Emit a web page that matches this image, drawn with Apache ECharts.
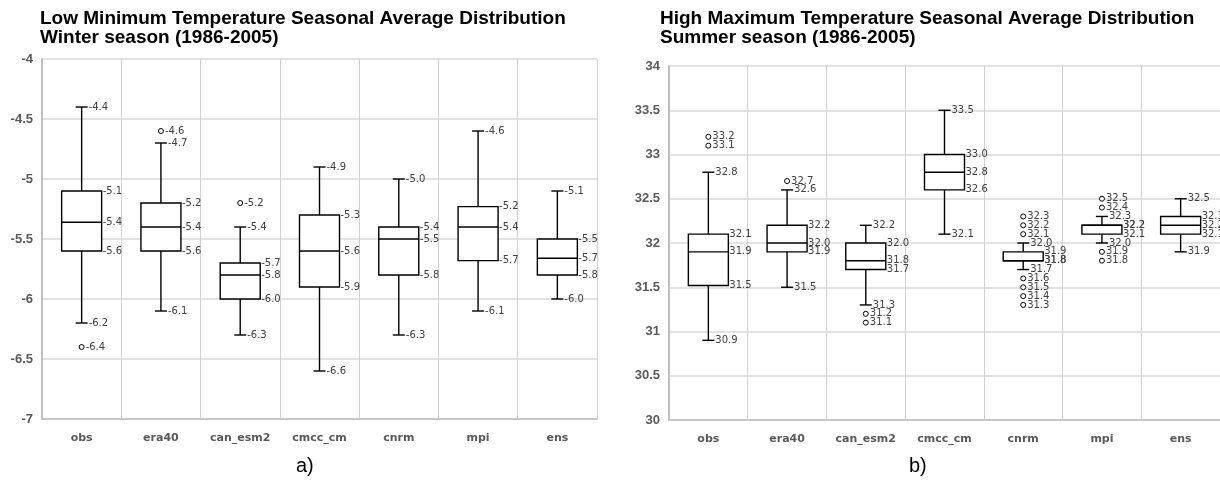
<!DOCTYPE html>
<html><head><meta charset="utf-8">
<script src="https://cdn.jsdelivr.net/npm/echarts@6/dist/echarts.min.js"></script>
<style>html,body{margin:0;padding:0;background:#fff}#c{width:1220px;height:486px}</style>
</head><body><div id="c"></div>
<script>
const categories = ['obs','era40','can_esm2','cmcc_cm','cnrm','mpi','ens'];
// [whisker low, Q1, median, Q3, whisker high]
const winterBoxes = [
  [-6.2, -5.6, -5.36, -5.1, -4.4],
  [-6.1, -5.6, -5.4, -5.2, -4.7],
  [-6.3, -6.0, -5.8, -5.7, -5.4],
  [-6.6, -5.9, -5.6, -5.3, -4.9],
  [-6.3, -5.8, -5.5, -5.4, -5.0],
  [-6.1, -5.68, -5.4, -5.23, -4.6],
  [-6.0, -5.8, -5.66, -5.5, -5.1]
];
const winterOutliers = [[0, -6.4], [1, -4.6], [2, -5.2]];
const summerBoxes = [
  [30.9, 31.52, 31.9, 32.1, 32.8],
  [31.5, 31.9, 32.0, 32.2, 32.6],
  [31.3, 31.7, 31.8, 32.0, 32.2],
  [32.1, 32.6, 32.8, 33.0, 33.5],
  [31.7, 31.8, 31.8, 31.9, 32.0],
  [32.0, 32.1, 32.2, 32.2, 32.3],
  [31.9, 32.1, 32.2, 32.3, 32.5]
];
const summerOutliers = [
  [0, 33.2], [0, 33.1], [1, 32.7], [2, 31.2], [2, 31.1],
  [4, 32.3], [4, 32.2], [4, 32.1], [4, 31.6], [4, 31.5], [4, 31.4], [4, 31.3],
  [5, 32.5], [5, 32.4], [5, 31.9], [5, 31.8]
];
const winterTicks = {min: -7, max: -4, interval: 0.5};
const summerTicks = {min: 30, max: 34, interval: 0.5};
const titles = [
  ['Low Minimum Temperature Seasonal Average Distribution', 'Winter season (1986-2005)'],
  ['High Maximum Temperature Seasonal Average Distribution', 'Summer season (1986-2005)']
];
const panelLabels = ['a)', 'b)'];

const LBL_FONT = '10px "DejaVu Sans"';
const LBL_COLOR = '#404040';

function boxSeries(boxes, idx) {
  return {
    type: 'custom', xAxisIndex: idx, yAxisIndex: idx, z: 3,
    data: boxes.map((d, i) => [i].concat(d)),
    encode: {x: 0, y: [1, 2, 3, 4, 5]},
    renderItem(params, api) {
      const i = api.value(0);
      const v = [1, 2, 3, 4, 5].map(k => api.value(k));
      const cx = api.coord([i, v[2]])[0];
      const y = v.map(val => api.coord([i, val])[1]);
      const bw = 40, cw = 12;
      const ls = {stroke: '#000', lineWidth: 1.4};
      const ch = [];
      ch.push({type: 'line', shape: {x1: cx, y1: y[4], x2: cx, y2: y[3]}, style: ls});
      ch.push({type: 'line', shape: {x1: cx, y1: y[0], x2: cx, y2: y[1]}, style: ls});
      ch.push({type: 'line', shape: {x1: cx - cw / 2, y1: y[4], x2: cx + cw / 2, y2: y[4]}, style: ls});
      ch.push({type: 'line', shape: {x1: cx - cw / 2, y1: y[0], x2: cx + cw / 2, y2: y[0]}, style: ls});
      ch.push({type: 'rect', shape: {x: cx - bw / 2, y: y[3], width: bw, height: y[1] - y[3]}, style: {fill: '#fff', stroke: '#000', lineWidth: 1.4}});
      ch.push({type: 'line', shape: {x1: cx - bw / 2, y1: y[2], x2: cx + bw / 2, y2: y[2]}, style: ls});
      const txt = (x, yy, val) => ({type: 'text', x: x, y: yy, style: {text: val.toFixed(1), fill: LBL_COLOR, font: LBL_FONT, align: 'left', verticalAlign: 'middle'}});
      ch.push(txt(cx + cw / 2 + 1, y[4], v[4]));
      ch.push(txt(cx + cw / 2 + 1, y[0], v[0]));
      ch.push(txt(cx + bw / 2 + 1, y[3], v[3]));
      ch.push(txt(cx + bw / 2 + 1, y[2], v[2]));
      ch.push(txt(cx + bw / 2 + 1, y[1], v[1]));
      return {type: 'group', children: ch};
    }
  };
}
function outlierSeries(pts, idx) {
  return {
    type: 'scatter', xAxisIndex: idx, yAxisIndex: idx, z: 4,
    data: pts, symbol: 'circle', symbolSize: 5,
    itemStyle: {color: '#fff', borderColor: '#000', borderWidth: 1, opacity: 1},
    label: {show: true, position: 'right', distance: 1, color: LBL_COLOR, fontFamily: 'DejaVu Sans', fontSize: 10,
      textBorderWidth: 0, opacity: 1, formatter: p => p.value[1].toFixed(1)},
    labelLayout: {hideOverlap: false},
    emphasis: {disabled: true}
  };
}
function xAxis(idx) {
  return {
    type: 'category', gridIndex: idx, data: categories,
    axisLine: {show: true, lineStyle: {color: '#bfbfbf', width: 1.5}},
    axisTick: {show: false},
    splitLine: {show: true, lineStyle: {color: '#d0d0d0', width: 1}},
    axisLabel: {color: '#595959', fontWeight: 'bold', fontSize: 11, fontFamily: 'DejaVu Sans', margin: 14}
  };
}
function yAxis(idx, t) {
  return {
    type: 'value', gridIndex: idx, min: t.min, max: t.max, interval: t.interval,
    axisLine: {show: true, lineStyle: {color: '#bfbfbf', width: 2}},
    axisTick: {show: false},
    splitLine: {show: true, lineStyle: {color: '#d9d9d9', width: 1.5}},
    axisLabel: {color: '#595959', fontWeight: 'bold', fontSize: 13, fontFamily: 'Liberation Sans', margin: 9}
  };
}
function titleText(x, lines) {
  return {type: 'text', left: x, top: 9, style: {text: lines.join('\n'), font: 'bold 19px "Liberation Sans"', fill: '#000', lineHeight: 19}};
}
const chart = echarts.init(document.getElementById('c'), null, {renderer: 'canvas'});
chart.setOption({
  animation: false,
  grid: [
    {left: 42, right: 623, top: 59, bottom: 67},
    {left: 669, right: 0, top: 66, bottom: 66}
  ],
  xAxis: [xAxis(0), xAxis(1)],
  yAxis: [yAxis(0, winterTicks), yAxis(1, summerTicks)],
  series: [
    boxSeries(winterBoxes, 0), outlierSeries(winterOutliers, 0),
    boxSeries(summerBoxes, 1), outlierSeries(summerOutliers, 1)
  ],
  graphic: [
    titleText(40, titles[0]),
    titleText(660, titles[1]),
    {type: 'text', left: 296, top: 456, style: {text: panelLabels[0], font: '20px "Liberation Sans"', fill: '#000'}},
    {type: 'text', left: 909, top: 456, style: {text: panelLabels[1], font: '20px "Liberation Sans"', fill: '#000'}}
  ]
});
</script></body></html>
